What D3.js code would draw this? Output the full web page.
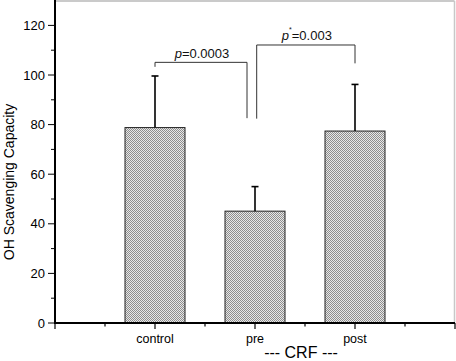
<!DOCTYPE html>
<html>
<head>
<meta charset="utf-8">
<script src="https://cdn.jsdelivr.net/npm/d3@7"></script>
<style>
  body { margin: 0; background: #fff; }
  svg { display: block; font-family: "Liberation Sans", Arial, sans-serif; }
</style>
</head>
<body>
<div id="chart"></div>
<script>
var categories = ["control", "pre", "post"];
var means = [78.8, 45.1, 77.4];
var errors = [20.8, 9.9, 18.8];
var yTicks = [0, 20, 40, 60, 80, 100, 120];
// brackets: from / to position (category index), left end value, top value, right end value, label
var brackets = [
    { from: 0, to: 0.92, left: 103.3, top: 105.1, right: 82.6, label: "p", sup: "", rest: "=0.0003" },
    { from: 1.017, to: 2, left: 82.4, top: 112.1, right: 104.7, label: "p", sup: "*", rest: "=0.003" }
];

var full_width = 456, full_height = 361;

var x = d3.scaleLinear().domain([0, 4]).range([55, 455]);
var y = d3.scaleLinear().domain([0, 130]).range([323, 0.6]);

var svg = d3.select("#chart").append("svg")
    .attr("width", full_width)
    .attr("height", full_height);

// checker pattern for bars
var defs = svg.append("defs");
var pat = defs.append("pattern")
    .attr("id", "checker")
    .attr("width", 2).attr("height", 2)
    .attr("patternUnits", "userSpaceOnUse");
pat.append("rect").attr("width", 2).attr("height", 2).attr("fill", "#e8e8e8");
pat.append("rect").attr("width", 1).attr("height", 1).attr("fill", "#8e8e8e");
pat.append("rect").attr("x", 1).attr("y", 1).attr("width", 1).attr("height", 1).attr("fill", "#8e8e8e");

// frame (top / right)
svg.append("line").attr("x1", 55).attr("x2", 454.5).attr("y1", 1).attr("y2", 1)
    .attr("stroke", "#b8b8b8").attr("stroke-width", 1.5);
svg.append("line").attr("x1", 454.5).attr("x2", 454.5).attr("y1", 1).attr("y2", 323)
    .attr("stroke", "#c8c8c8").attr("stroke-width", 1.5);

// bars
var barW = 0.6;
svg.selectAll("rect.bar")
    .data(means)
    .enter().append("rect")
    .attr("class", "bar")
    .attr("x", function(d, i) { return x(i + 1 - barW / 2); })
    .attr("width", x(barW) - x(0))
    .attr("y", function(d) { return y(d); })
    .attr("height", function(d) { return y(0) - y(d); })
    .attr("fill", "url(#checker)")
    .attr("stroke", "#222")
    .attr("stroke-width", 1);

// error bars
var err = svg.selectAll("g.err").data(means).enter().append("g").attr("class", "err");
err.append("line")
    .attr("x1", function(d, i) { return x(i + 1); })
    .attr("x2", function(d, i) { return x(i + 1); })
    .attr("y1", function(d) { return y(d); })
    .attr("y2", function(d, i) { return y(d + errors[i]); })
    .attr("stroke", "#000").attr("stroke-width", 1.6);
err.append("line")
    .attr("x1", function(d, i) { return x(i + 1) - 3.5; })
    .attr("x2", function(d, i) { return x(i + 1) + 3.5; })
    .attr("y1", function(d, i) { return y(d + errors[i]); })
    .attr("y2", function(d, i) { return y(d + errors[i]); })
    .attr("stroke", "#000").attr("stroke-width", 1.6);

// significance brackets
brackets.forEach(function(b) {
    var x0 = x(b.from + 1), x1 = x(b.to + 1);
    svg.append("path")
        .attr("d", "M" + x0 + "," + y(b.left) + "V" + y(b.top) + "H" + x1 + "V" + y(b.right))
        .attr("fill", "none").attr("stroke", "#333").attr("stroke-width", 1);
    var t = svg.append("text")
        .attr("x", (x0 + x1) / 2 + 1)
        .attr("y", y(b.top) - 4.5)
        .attr("text-anchor", "middle")
        .attr("font-size", 13)
        .attr("fill", "#111");
    t.append("tspan").attr("font-style", "italic").text(b.label);
    if (b.sup) t.append("tspan").attr("font-size", 7).attr("dy", -8).text(b.sup);
    t.append("tspan").attr("dy", b.sup ? 8 : 0).text(b.rest);
});

// Y axis
var yAxis = svg.append("g").attr("transform", "translate(55,0)");
yAxis.append("line").attr("x1", 0).attr("x2", 0).attr("y1", 0).attr("y2", 323.5)
    .attr("stroke", "#000").attr("stroke-width", 2);
yAxis.selectAll("line.minor").data(d3.range(10, 130, 20)).enter().append("line")
    .attr("x1", -4).attr("x2", 0)
    .attr("y1", function(d) { return y(d); }).attr("y2", function(d) { return y(d); })
    .attr("stroke", "#000").attr("stroke-width", 1);
yAxis.selectAll("line.major").data(yTicks).enter().append("line")
    .attr("x1", -7).attr("x2", 0)
    .attr("y1", function(d) { return y(d); }).attr("y2", function(d) { return y(d); })
    .attr("stroke", "#000").attr("stroke-width", 1);
yAxis.selectAll("text").data(yTicks).enter().append("text")
    .attr("x", -10)
    .attr("y", function(d) { return y(d); })
    .attr("dy", "0.35em")
    .attr("text-anchor", "end")
    .attr("font-size", 13)
    .text(function(d) { return d; });

// X axis
var xAxis = svg.append("g").attr("transform", "translate(0,323)");
xAxis.append("line").attr("x1", 54).attr("x2", 455).attr("y1", 0).attr("y2", 0)
    .attr("stroke", "#000").attr("stroke-width", 2);
xAxis.selectAll("line.major").data([0, 1, 2, 3, 4]).enter().append("line")
    .attr("x1", function(d) { return x(d); }).attr("x2", function(d) { return x(d); })
    .attr("y1", 0).attr("y2", 6)
    .attr("stroke", "#000").attr("stroke-width", 1.2);
xAxis.selectAll("line.minor").data([0.5, 1.5, 2.5, 3.5]).enter().append("line")
    .attr("x1", function(d) { return x(d); }).attr("x2", function(d) { return x(d); })
    .attr("y1", 0).attr("y2", 3.5)
    .attr("stroke", "#000").attr("stroke-width", 1.2);
xAxis.selectAll("text").data(categories).enter().append("text")
    .attr("x", function(d, i) { return x(i + 1); })
    .attr("y", 20)
    .attr("text-anchor", "middle")
    .attr("font-size", 12.5)
    .text(function(d) { return d; });

// axis titles
svg.append("text")
    .attr("x", 301).attr("y", 358)
    .attr("text-anchor", "middle")
    .attr("font-size", 16)
    .text("--- CRF ---");

svg.append("text")
    .attr("transform", "translate(14,182) rotate(-90)")
    .attr("text-anchor", "middle")
    .attr("font-size", 14)
    .text("OH Scavenging Capacity");
</script>
</body>
</html>
